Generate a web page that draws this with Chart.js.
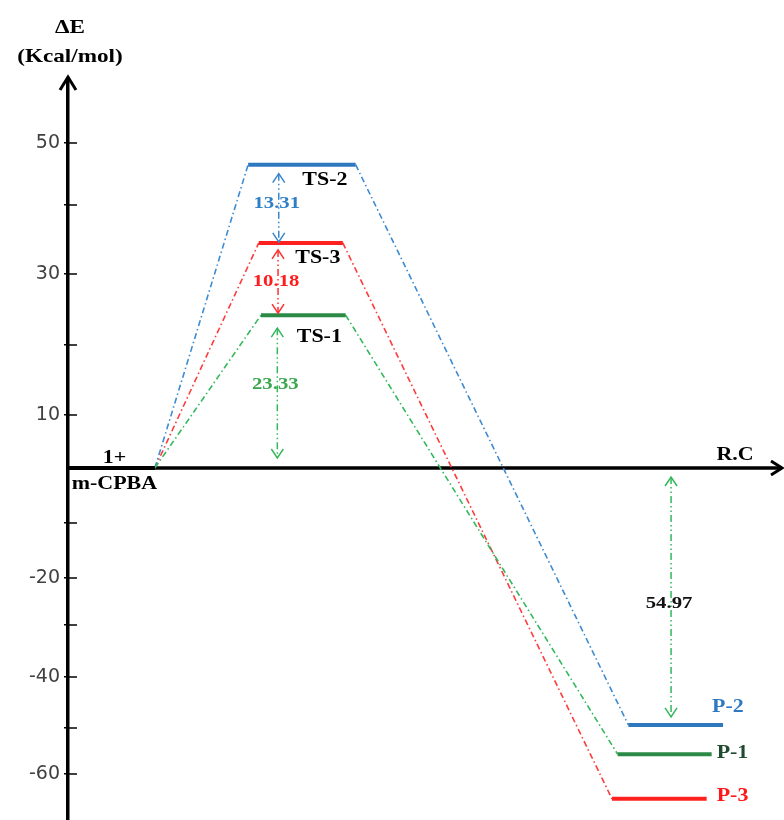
<!DOCTYPE html>
<html>
<head>
<meta charset="utf-8">
<script src="https://cdn.jsdelivr.net/npm/chart.js@4.4.0/dist/chart.umd.min.js"></script>
<style>
  html, body { margin: 0; padding: 0; background: #fff; }
  #wrap { width: 784px; height: 820px; }
</style>
</head>
<body>
<div id="wrap"><canvas id="energyChart" width="784" height="820"></canvas></div>
<script>
// energy levels (kcal/mol) along the reaction coordinate (arbitrary 0..100)
const levelNames = ["R", "TS-2", "TS-3", "TS-1", "P-2", "P-1", "P-3"];
const levelEnergy = [0, 46.5, 34.5, 24.2, -49.4, -55.7, -65.4];
const levelStart = [0, 25.3, 26.8, 27.1, 78.7, 77.2, 76.4];
const levelEnd = [12.2, 40.4, 38.6, 39.0, 92.0, 90.4, 89.7];

// pathways: reactant -> TS -> product
const pathTS = ["TS-1", "TS-2", "TS-3"];
const pathProduct = ["P-1", "P-2", "P-3"];

// energy gaps marked with double arrows
const gapLabels = ["13.31", "10.18", "23.33", "54.97"];
const gapFrom = ["TS-3", "TS-1", "R", "R"];
const gapTo = ["TS-2", "TS-3", "TS-1", "P-2"];
const gapX = [29.6, 29.5, 29.4, 84.7];

// y axis ticks
const yTickValues = [50, 40, 30, 20, 10, -10, -20, -30, -40, -50, -60];
const yTickLabels = ["50", "", "30", "", "10", "", "-20", "", "-40", "", "-60"];

// the original axis is hand drawn: relative height of each 10 kcal band, from -70 up to 60
const bandEdges = [-70, -60, -50, -40, -30, -20, -10, 0, 10, 20, 30, 40, 50, 60];
const bandHeights = [46, 46, 51, 52, 47, 55, 55, 53, 70, 71, 69, 62, 63];

const BLUE = "#2e78c0";
const RED = "#ff2020";
const GREEN = "#2a8a46";
const LIGHT_GREEN = "#33b85c";
const colorOf = {
  "R": "#000", "TS-1": GREEN, "TS-2": BLUE, "TS-3": RED,
  "P-1": GREEN, "P-2": BLUE, "P-3": RED
};
const dashColorOf = { "TS-1": LIGHT_GREEN, "TS-2": "#3d8bd0", "TS-3": "#ff3a3a" };
const gapColors = ["#3a88cc", "#ff3030", LIGHT_GREEN, LIGHT_GREEN];
const gapTextColors = ["#2f7fc6", "#ff1c1c", "#38a84e", "#111"];
const gapPad = [[9, 1], [7, 2], [13, 10], [9, 8]]; // [upper, lower] px
const gapTextDy = [-4, 0, -8, 7];

const SERIF = "'Liberation Serif', 'Times New Roman', serif";
const STRETCH = 1.22;

const bandCum = [0];
bandHeights.forEach((h, i) => bandCum.push(bandCum[i] + h));
const bandTotal = bandCum[bandCum.length - 1];

function toDecimal(v) {
  let i = 0;
  while (i < bandHeights.length - 1 && v > bandEdges[i + 1]) i++;
  const f = (v - bandEdges[i]) / (bandEdges[i + 1] - bandEdges[i]);
  return (bandCum[i] + f * bandHeights[i]) / bandTotal;
}
function fromDecimal(d) {
  const h = d * bandTotal;
  let i = 0;
  while (i < bandHeights.length - 1 && h > bandCum[i + 1]) i++;
  const f = (h - bandCum[i]) / bandHeights[i];
  return bandEdges[i] + f * (bandEdges[i + 1] - bandEdges[i]);
}

class WarpedScale extends Chart.LinearScale {
  static id = "warped";
  static defaults = Chart.LinearScale.defaults;
  getPixelForValue(value) {
    return this.getPixelForDecimal(toDecimal(value));
  }
  getValueForPixel(pixel) {
    return fromDecimal(this.getDecimalForPixel(pixel));
  }
}
Chart.register(WarpedScale);

const idx = (name) => levelNames.indexOf(name);

const datasets = [];
levelNames.forEach((name, i) => {
  datasets.push({
    label: name,
    data: [{ x: levelStart[i], y: levelEnergy[i] }, { x: levelEnd[i], y: levelEnergy[i] }],
    borderColor: colorOf[name],
    borderWidth: 4,
    order: 0
  });
});
pathTS.forEach((ts, k) => {
  const r = idx("R"), t = idx(ts), p = idx(pathProduct[k]);
  const style = { borderColor: dashColorOf[ts], borderWidth: 1.6, borderDash: [6, 3, 1.5, 3], order: 1 };
  datasets.push(Object.assign({
    label: "R-" + ts,
    data: [{ x: levelEnd[r], y: levelEnergy[r] }, { x: levelStart[t], y: levelEnergy[t] }]
  }, style));
  datasets.push(Object.assign({
    label: ts + "-" + pathProduct[k],
    data: [{ x: levelEnd[t], y: levelEnergy[t] }, { x: levelStart[p], y: levelEnergy[p] }]
  }, style));
});

function stretchText(ctx, text, x, y, align, font, color) {
  ctx.save();
  ctx.font = font;
  ctx.fillStyle = color;
  ctx.textAlign = align;
  ctx.textBaseline = "middle";
  ctx.translate(x, y);
  ctx.scale(STRETCH, 1);
  ctx.fillText(text, 0, 0);
  ctx.restore();
}

function chevron(ctx, x, y, dir, len, half) {
  ctx.beginPath();
  ctx.moveTo(x - half, y + dir * len);
  ctx.lineTo(x, y);
  ctx.lineTo(x + half, y + dir * len);
  ctx.stroke();
}

const diagramPlugin = {
  id: "diagram",
  beforeDatasetsDraw(chart) {
    const { ctx, chartArea } = chart;
    const ys = chart.scales.y;
    const y0 = ys.getPixelForValue(0);
    ctx.save();
    ctx.strokeStyle = "#000";
    ctx.lineWidth = 3.5;
    // x axis with arrow
    ctx.beginPath();
    ctx.moveTo(chartArea.left, y0);
    ctx.lineTo(chart.width - 2, y0);
    ctx.stroke();
    ctx.lineWidth = 3;
    ctx.beginPath();
    ctx.moveTo(chart.width - 13, y0 - 7);
    ctx.lineTo(chart.width - 2, y0);
    ctx.lineTo(chart.width - 13, y0 + 7);
    ctx.stroke();
    // y axis arrow tip
    const ax = ys.right;
    ctx.lineWidth = 3.5;
    ctx.beginPath();
    ctx.moveTo(ax, chartArea.top + 2);
    ctx.lineTo(ax, chartArea.top - 3);
    ctx.stroke();
    ctx.lineWidth = 3;
    chevron(ctx, ax, chartArea.top - 3, 1, 13, 8);
    // inner halves of the y ticks
    ctx.lineWidth = 1.5;
    ys.ticks.forEach((t, i) => {
      const py = ys.getPixelForTick(i);
      ctx.beginPath();
      ctx.moveTo(ax, py);
      ctx.lineTo(ax + 9, py);
      ctx.stroke();
    });
    ctx.restore();
  },
  afterDatasetsDraw(chart) {
    const { ctx, chartArea } = chart;
    const xs = chart.scales.x, ys = chart.scales.y;
    const bold = (s) => "bold " + s + "px " + SERIF;

    // gap arrows
    gapLabels.forEach((lab, i) => {
      const px = xs.getPixelForValue(gapX[i]);
      const yTop = ys.getPixelForValue(levelEnergy[idx(gapTo[i])]);
      const yBot = ys.getPixelForValue(levelEnergy[idx(gapFrom[i])]);
      const hi = Math.min(yTop, yBot) + gapPad[i][0];
      const lo = Math.max(yTop, yBot) - gapPad[i][1];
      ctx.save();
      ctx.strokeStyle = gapColors[i];
      ctx.lineWidth = 1.5;
      ctx.setLineDash([7, 3, 1.5, 3, 1.5, 3]);
      ctx.beginPath();
      ctx.moveTo(px, hi);
      ctx.lineTo(px, lo);
      ctx.stroke();
      ctx.setLineDash([]);
      chevron(ctx, px, hi, 1, 9, 6);
      chevron(ctx, px, lo, -1, 9, 6);
      ctx.restore();
      const mid = (hi + lo) / 2 + gapTextDy[i];
      stretchText(ctx, lab, px - 2, mid, "center", bold(17), gapTextColors[i]);
    });

    // transition state labels
    const tsDx = { "TS-2": 23, "TS-3": 17, "TS-1": 16 };
    const tsDy = { "TS-2": 16, "TS-3": 15, "TS-1": 22 };
    ["TS-2", "TS-3", "TS-1"].forEach((n) => {
      const i = idx(n);
      const cx = xs.getPixelForValue((levelStart[i] + levelEnd[i]) / 2);
      const cy = ys.getPixelForValue(levelEnergy[i]);
      stretchText(ctx, n, cx + tsDx[n], cy + tsDy[n], "center", bold(18), "#000");
    });

    // product labels
    const pDx = { "P-2": -11, "P-1": 5, "P-3": 10 };
    const pDy = { "P-2": -18, "P-1": -1, "P-3": -2 };
    const pColor = { "P-2": "#2f78c2", "P-1": "#1f4a30", "P-3": "#ff1a1a" };
    ["P-2", "P-1", "P-3"].forEach((n) => {
      const i = idx(n);
      const x = xs.getPixelForValue(levelEnd[i]);
      const y = ys.getPixelForValue(levelEnergy[i]);
      stretchText(ctx, n, x + pDx[n], y + pDy[n], "left", bold(18), pColor[n]);
    });

    // reactant
    const r = idx("R");
    const rx = xs.getPixelForValue((levelStart[r] + levelEnd[r]) / 2);
    const ry = ys.getPixelForValue(levelEnergy[r]);
    stretchText(ctx, "1+", rx + 3, ry - 10, "center", bold(18), "#000");
    stretchText(ctx, "m-CPBA", rx + 3, ry + 16, "center", bold(18), "#000");

    // axis titles
    const ax = ys.right;
    stretchText(ctx, "ΔE", ax + 2, chartArea.top - 52, "center", bold(19), "#000");
    stretchText(ctx, "(Kcal/mol)", ax + 2, chartArea.top - 23, "center", bold(19), "#000");
    stretchText(ctx, "R.C", chart.width - 49, ry - 13, "center", bold(18), "#000");
  }
};

new Chart(document.getElementById("energyChart"), {
  type: "scatter",
  data: { datasets: datasets },
  options: {
    responsive: false,
    animation: false,
    showLine: true,
    clip: false,
    layout: { padding: { top: 80, right: 4, bottom: 0, left: 0 } },
    elements: { point: { radius: 0, hoverRadius: 0 }, line: { tension: 0 } },
    plugins: { legend: { display: false }, tooltip: { enabled: false } },
    scales: {
      x: { type: "linear", min: 0, max: 100, display: false },
      y: {
        type: "warped",
        min: -70,
        max: 60,
        afterFit: (s) => { s.width = 68; s.paddingTop = 0; s.paddingBottom = 0; },
        afterBuildTicks: (s) => { s.ticks = yTickValues.map((v) => ({ value: v })); },
        ticks: {
          autoSkip: false,
          callback: (v, i) => yTickLabels[i],
          font: { family: "'DejaVu Sans', Verdana, sans-serif", size: 19 },
          color: "#404040",
          padding: 4
        },
        grid: { drawOnChartArea: false, drawTicks: true, tickLength: 4, color: "#000", lineWidth: 1.5 },
        border: { display: true, color: "#000", width: 3.5 }
      }
    }
  },
  plugins: [diagramPlugin]
});
</script>
</body>
</html>
